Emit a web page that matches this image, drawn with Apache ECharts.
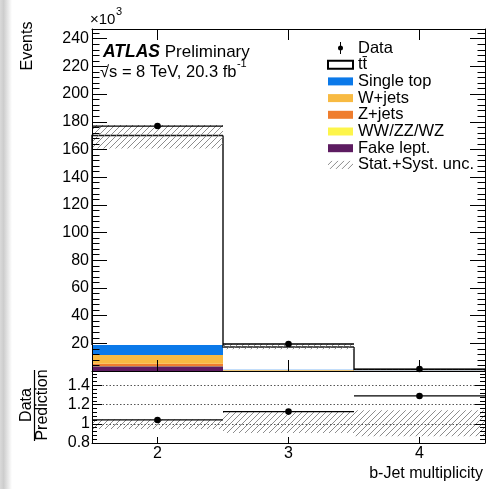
<!DOCTYPE html>
<html><head><meta charset="utf-8">
<script src="https://cdn.jsdelivr.net/npm/echarts@6/dist/echarts.min.js"></script>
<style>html,body{margin:0;padding:0;background:#fff}#c{width:503px;height:489px}</style>
</head><body><div id="c"></div><script>
// ---------- data (values in thousands of events) ----------
const binCenters = [2, 3, 4];
const binLow = [1.5, 2.5, 3.5];
const binHigh = [2.5, 3.5, 4.5];
const fakeLept = [3.4, 0.25, 0.03];
const wwzzwz = [0.3, 0.03, 0.0];
const zJets = [1.6, 0.15, 0.01];
const wJets = [6.3, 0.3, 0.02];
const singleTop = [7.2, 0.4, 0.04];
const ttbar = [151.2, 16.2, 1.0];
const dataEvents = [176.9, 19.5, 1.42];
const uncLowRel = [0.945, 0.905, 0.87];
const uncHighRel = [1.045, 1.13, 1.14];
const dataRatio = [1.04, 1.127, 1.29];
const mainTickLabels = [20, 40, 60, 80, 100, 120, 140, 160, 180, 200, 220, 240];
const ratioTickLabels = [0.8, 1, 1.2, 1.4];
const xTickLabels = [2, 3, 4];

const FONT = 'Liberation Sans';
const TT = 'tt\u0304';

function hatchCanvas() {
  const c = document.createElement('canvas');
  c.width = 6; c.height = 6;
  const g = c.getContext('2d');
  g.strokeStyle = '#808080'; g.lineWidth = 0.9;
  g.beginPath();
  g.moveTo(0, 6); g.lineTo(6, 0);
  g.moveTo(-1, 1); g.lineTo(1, -1);
  g.moveTo(5, 7); g.lineTo(7, 5);
  g.stroke();
  return c;
}
const hatch = { image: hatchCanvas(), repeat: 'repeat' };

function rectItem(params, api) {
  const a = api.coord([api.value(0), api.value(3)]);
  const b = api.coord([api.value(1), api.value(2)]);
  return { type: 'rect', shape: { x: a[0], y: a[1], width: b[0] - a[0], height: b[1] - a[1] },
    style: api.style({ stroke: null, lineWidth: 0 }) };
}
function dataItem(params, api) {
  const l = api.coord([api.value(0), api.value(3)]);
  const r = api.coord([api.value(1), api.value(3)]);
  const c = api.coord([api.value(2), api.value(3)]);
  return { type: 'group', children: [
    { type: 'line', shape: { x1: l[0], y1: l[1], x2: r[0], y2: r[1] }, style: { stroke: '#000', lineWidth: 1.3 } },
    { type: 'circle', shape: { cx: c[0], cy: c[1], r: 3.3 }, style: { fill: '#000' } }
  ] };
}

const stackDefs = [
  { name: 'Fake lept.', values: fakeLept, color: '#5d1c61' },
  { name: 'WW/ZZ/WZ', values: wwzzwz, color: '#fdf54b' },
  { name: 'Z+jets', values: zJets, color: '#ef7d2e' },
  { name: 'W+jets', values: wJets, color: '#f8ba42' },
  { name: 'Single top', values: singleTop, color: '#0b79e9' }
];
let base = binCenters.map(() => 0);
const stackSeries = stackDefs.map(d => {
  const data = binCenters.map((c, i) => [binLow[i], binHigh[i], base[i], base[i] + d.values[i]]);
  base = base.map((b, i) => b + d.values[i]);
  return { type: 'custom', name: d.name, xAxisIndex: 0, yAxisIndex: 0, itemStyle: { color: d.color },
    renderItem: rectItem, data: data, encode: { x: [0, 1], y: [2, 3] }, z: 2, silent: true };
});
const bkgTotal = base.slice();
const predTotal = bkgTotal.map((b, i) => b + ttbar[i]);

const ttSeries = {
  type: 'custom', name: TT, xAxisIndex: 0, yAxisIndex: 0, z: 2, silent: true,
  itemStyle: { color: '#fff', borderColor: '#000', borderWidth: 1.2 },
  encode: { x: [0, 1], y: [2, 3] },
  data: binCenters.map((c, i) => [binLow[i], binHigh[i], bkgTotal[i], predTotal[i],
    i > 0 ? predTotal[i - 1] : bkgTotal[i], i === binCenters.length - 1 ? 1 : 0]),
  renderItem(params, api) {
    const x0 = api.value(0), x1 = api.value(1), y0 = api.value(2), y1 = api.value(3), yp = api.value(4), last = api.value(5);
    const a = api.coord([x0, y1]), b = api.coord([x1, y0]);
    const pts = [api.coord([x0, yp]), api.coord([x0, y1]), api.coord([x1, y1])];
    if (last) pts.push(api.coord([x1, y0]));
    return { type: 'group', children: [
      { type: 'rect', shape: { x: a[0], y: a[1], width: b[0] - a[0], height: b[1] - a[1] }, style: { fill: '#fff' } },
      { type: 'polyline', shape: { points: pts }, style: { fill: null, stroke: '#1a1a1a', lineWidth: 1.5 } }
    ] };
  }
};

const uncMain = {
  type: 'custom', name: 'Stat.+Syst. unc.', xAxisIndex: 0, yAxisIndex: 0, z: 3, silent: true,
  itemStyle: { color: hatch }, renderItem: rectItem, encode: { x: [0, 1], y: [2, 3] },
  data: binCenters.map((c, i) => [binLow[i], binHigh[i], predTotal[i] * uncLowRel[i], predTotal[i] * uncHighRel[i]])
};
const dataMain = {
  type: 'custom', name: 'Data', xAxisIndex: 0, yAxisIndex: 0, z: 4, silent: true,
  itemStyle: { color: '#000' }, renderItem: dataItem, encode: { x: [0, 1], y: 3 },
  data: binCenters.map((c, i) => [binLow[i], binHigh[i], c, dataEvents[i]])
};
const uncRatio = {
  type: 'custom', name: 'Stat.+Syst. unc.', xAxisIndex: 2, yAxisIndex: 2, z: 3, silent: true,
  itemStyle: { color: hatch }, renderItem: rectItem, encode: { x: [0, 1], y: [2, 3] },
  data: binCenters.map((c, i) => [binLow[i], binHigh[i], uncLowRel[i], uncHighRel[i]])
};
const dataRatioSeries = {
  type: 'custom', name: 'Data', xAxisIndex: 2, yAxisIndex: 2, z: 4, silent: true,
  itemStyle: { color: '#000' }, renderItem: dataItem, encode: { x: [0, 1], y: 3 },
  data: binCenters.map((c, i) => [binLow[i], binHigh[i], c, dataRatio[i]])
};

const axisLineStyle = { show: true, onZero: false, lineStyle: { color: '#000', width: 1 } };
const lbl = { fontFamily: FONT, fontSize: 16, color: '#000' };

function measure(text, size) {
  const ctx = document.createElement('canvas').getContext('2d');
  ctx.font = size + 'px "' + FONT + '"';
  return ctx.measureText(text).width;
}
const lumiText = '\u221As = 8 TeV, 20.3 fb';
const lumiW = measure(lumiText, 16.5);
const x10W = measure('\u00d710', 15);

const boxIcon = 'path://M0,0H25V8H0Z';
const dataIcon = 'path://M4.5,0H5.5V12H4.5Z M5,3.5A2.5,2.5 0 1 1 5,8.5A2.5,2.5 0 1 1 5,3.5Z';

const option = {
  animation: false,
  backgroundColor: '#fff',
  grid: [
    { left: 92, top: 29, width: 393, height: 342, containLabel: false, outerBoundsMode: 'none' },
    { left: 92, top: 371, width: 393, height: 72, containLabel: false, outerBoundsMode: 'none' }
  ],
  xAxis: [
    { type: 'value', gridIndex: 0, min: 1.5, max: 4.5, position: 'bottom', z: 10,
      axisLine: axisLineStyle, splitLine: { show: false },
      axisTick: { show: true, inside: true, length: 11, customValues: xTickLabels, lineStyle: { color: '#000' } },
      axisLabel: { show: false } },
    { type: 'value', gridIndex: 0, min: 1.5, max: 4.5, position: 'top', z: 10,
      axisLine: axisLineStyle, splitLine: { show: false },
      axisTick: { show: true, inside: true, length: 11, customValues: xTickLabels, lineStyle: { color: '#000' } },
      axisLabel: { show: false } },
    { type: 'value', gridIndex: 1, min: 1.5, max: 4.5, position: 'bottom', z: 10,
      axisLine: axisLineStyle, splitLine: { show: false },
      axisTick: { show: true, inside: true, length: 6, customValues: xTickLabels, lineStyle: { color: '#000' } },
      axisLabel: Object.assign({ show: true, margin: 3, customValues: xTickLabels, formatter: v => String(v) }, lbl) }
  ],
  yAxis: [
    { type: 'value', gridIndex: 0, min: 0, max: 247, interval: 20, position: 'left', z: 10,
      axisLine: axisLineStyle, splitLine: { show: false },
      axisTick: { show: true, inside: true, length: 15, lineStyle: { color: '#000' } },
      minorTick: { show: true, splitNumber: 5, length: 7.5, lineStyle: { color: '#000' } },
      minorSplitLine: { show: false },
      axisLabel: Object.assign({ show: true, margin: 3, showMinLabel: true, showMaxLabel: true,
        formatter: v => mainTickLabels.includes(Math.round(v)) && Math.abs(v - Math.round(v)) < 1e-6 ? String(Math.round(v)) : '' }, lbl) },
    { type: 'value', gridIndex: 0, min: 0, max: 247, interval: 20, position: 'right', z: 10,
      axisLine: axisLineStyle, splitLine: { show: false },
      axisTick: { show: true, inside: true, length: 15, lineStyle: { color: '#000' } },
      minorTick: { show: true, splitNumber: 5, length: 7.5, lineStyle: { color: '#000' } },
      axisLabel: { show: false } },
    { type: 'value', gridIndex: 1, min: 0.8, max: 1.55, interval: 0.2, position: 'left', z: 10,
      axisLine: axisLineStyle,
      splitLine: { show: true, lineStyle: { color: '#555', width: 1, type: [1.5, 2] } },
      axisTick: { show: true, inside: true, length: 10, lineStyle: { color: '#000' } },
      minorTick: { show: true, splitNumber: 5, length: 5, lineStyle: { color: '#000' } },
      axisLabel: Object.assign({ show: true, margin: 2, showMinLabel: true, showMaxLabel: true,
        formatter: v => { const r = Math.round(v * 100) / 100; return ratioTickLabels.includes(r) && Math.abs(v - r) < 1e-6 ? String(r) : ''; } }, lbl) },
    { type: 'value', gridIndex: 1, min: 0.8, max: 1.55, interval: 0.2, position: 'right', z: 10,
      axisLine: axisLineStyle, splitLine: { show: false },
      axisTick: { show: true, inside: true, length: 10, lineStyle: { color: '#000' } },
      minorTick: { show: true, splitNumber: 5, length: 5, lineStyle: { color: '#000' } },
      axisLabel: { show: false } }
  ],
  legend: {
    orient: 'vertical', left: 327, top: 39.5, itemWidth: 25, itemHeight: 12, itemGap: -0.3,
    selectedMode: false, padding: 0,
    textStyle: { fontFamily: FONT, fontSize: 16.5, color: '#000', lineHeight: 15 },
    data: [
      { name: 'Data', icon: dataIcon },
      { name: TT, icon: boxIcon },
      { name: 'Single top', icon: boxIcon },
      { name: 'W+jets', icon: boxIcon },
      { name: 'Z+jets', icon: boxIcon },
      { name: 'WW/ZZ/WZ', icon: boxIcon },
      { name: 'Fake lept.', icon: boxIcon },
      { name: 'Stat.+Syst. unc.', icon: boxIcon }
    ]
  },
  graphic: [
    { type: 'rect', z: -10, shape: { x: 0, y: 0, width: 12, height: 489 },
      style: { fill: new echarts.graphic.LinearGradient(0, 0, 1, 0, [
        { offset: 0, color: '#dadada' }, { offset: 0.3, color: '#cdcdcd' }, { offset: 1, color: '#ffffff' }]) } },
    { type: 'text', x: 28, y: 46, rotation: Math.PI / 2,
      style: { text: 'Events', fontFamily: FONT, fontSize: 16, fill: '#000', align: 'center', verticalAlign: 'middle' } },
    { type: 'text', x: 90, y: 20,
      style: { text: '\u00d710', fontFamily: FONT, fontSize: 15, fill: '#000', align: 'left', verticalAlign: 'middle' } },
    { type: 'text', x: 90 + x10W + 0.5, y: 12,
      style: { text: '3', fontFamily: FONT, fontSize: 11, fill: '#000', align: 'left', verticalAlign: 'middle' } },
    { type: 'text', x: 103, y: 52,
      style: { text: '{a|ATLAS}{b| Preliminary}', fill: '#000', align: 'left', verticalAlign: 'middle',
        rich: { a: { fontFamily: FONT, fontSize: 17.5, fontWeight: 'bold', fontStyle: 'italic', fill: '#000' },
                b: { fontFamily: FONT, fontSize: 17, fill: '#000' } } } },
    { type: 'text', x: 100, y: 72,
      style: { text: lumiText, fontFamily: FONT, fontSize: 16.5, fill: '#000', align: 'left', verticalAlign: 'middle' } },
    { type: 'text', x: 100 + lumiW + 0.5, y: 64,
      style: { text: '-1', fontFamily: FONT, fontSize: 11, fill: '#000', align: 'left', verticalAlign: 'middle' } },
    { type: 'text', x: 483, y: 474,
      style: { text: 'b-Jet multiplicity', fontFamily: FONT, fontSize: 16, fill: '#000', align: 'right', verticalAlign: 'middle' } },
    { type: 'text', x: 27, y: 405, rotation: Math.PI / 2,
      style: { text: 'Data', fontFamily: FONT, fontSize: 16, fill: '#000', align: 'center', verticalAlign: 'middle' } },
    { type: 'line', shape: { x1: 34.5, y1: 370, x2: 34.5, y2: 441 }, style: { stroke: '#000', lineWidth: 1.2 } },
    { type: 'text', x: 42.5, y: 405, rotation: Math.PI / 2,
      style: { text: 'Prediction', fontFamily: FONT, fontSize: 16, fill: '#000', align: 'center', verticalAlign: 'middle' } }
  ],
  series: [...stackSeries, ttSeries, uncMain, dataMain, uncRatio, dataRatioSeries]
};

const chart = echarts.init(document.getElementById('c'), null, { renderer: 'canvas' });
chart.setOption(option);
</script></body></html>
